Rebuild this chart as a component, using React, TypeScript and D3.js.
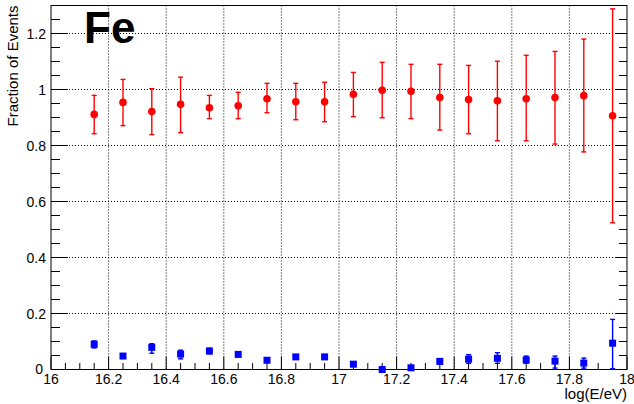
import React from "react";
import * as d3 from "d3";

// Bin centres in log10(E/eV)
const energyBins = [
  16.15, 16.25, 16.35, 16.45, 16.55, 16.65, 16.75, 16.85, 16.95, 17.05,
  17.15, 17.25, 17.35, 17.45, 17.55, 17.65, 17.75, 17.85, 17.95,
];

// Fraction of events reconstructed (red circles) with lower / upper error bounds
const fracRed = [
  0.911, 0.954, 0.921, 0.947, 0.935, 0.942, 0.967, 0.956, 0.956, 0.983,
  0.997, 0.994, 0.971, 0.964, 0.96, 0.967, 0.971, 0.978, 0.906,
];
const fracRedLow = [
  0.842, 0.871, 0.839, 0.846, 0.896, 0.896, 0.917, 0.892, 0.885, 0.903,
  0.899, 0.896, 0.855, 0.842, 0.817, 0.817, 0.805, 0.777, 0.524,
];
const fracRedHigh = [
  0.979, 1.036, 1.003, 1.044, 0.979, 0.99, 1.022, 1.022, 1.026, 1.061,
  1.097, 1.09, 1.09, 1.086, 1.101, 1.122, 1.136, 1.18, 1.288,
];

// Fraction of events in the second selection (blue squares)
const fracBlue = [
  0.09, 0.048, 0.079, 0.055, 0.066, 0.054, 0.033, 0.045, 0.045, 0.019,
  0.0, 0.006, 0.029, 0.037, 0.04, 0.034, 0.03, 0.023, 0.094,
];
const fracBlueLow = [
  0.077, 0.04, 0.058, 0.038, 0.056, 0.045, 0.026, 0.038, 0.038, 0.012,
  0.0, 0.001, 0.02, 0.022, 0.022, 0.022, 0.005, 0.005, 0.003,
];
const fracBlueHigh = [
  0.102, 0.056, 0.092, 0.069, 0.076, 0.063, 0.04, 0.052, 0.052, 0.026,
  0.005, 0.011, 0.038, 0.053, 0.06, 0.048, 0.048, 0.041, 0.179,
];

const xTickLabels = ["16", "16.2", "16.4", "16.6", "16.8", "17", "17.2", "17.4", "17.6", "17.8", "18"];
const yTickLabels = ["0", "0.2", "0.4", "0.6", "0.8", "1", "1.2"];

const W = 634;
const H = 404;
const LEFT = 51;
const RIGHT = 627;
const TOP = 5.5;
const BOTTOM = 369.5;
const FONT = "'Liberation Sans', Arial, Helvetica, sans-serif";

export default function App() {
  const x = d3.scaleLinear().domain([16, 18]).range([LEFT, RIGHT]);
  const y = d3.scaleLinear().domain([0, 1.3]).range([BOTTOM, TOP]);

  const xMajor = xTickLabels.map(Number);
  const yMajor = yTickLabels.map(Number);
  const xMinor = d3.range(0, 41).map((i) => 16 + i * 0.05).filter((v) => v <= 18.0001);
  const yMinor = d3.range(0, 27).map((i) => i * 0.05).filter((v) => v <= 1.3001);
  const isMajor = (v: number) => Math.abs(v * 5 - Math.round(v * 5)) < 1e-6;

  const capHalf = 2.5;

  const errBar = (
    xv: number,
    lo: number,
    hi: number,
    color: string,
    key: string
  ) => (
    <g key={key} stroke={color} strokeWidth={1.4}>
      <line x1={x(xv)} x2={x(xv)} y1={y(lo)} y2={y(hi)} />
      <line x1={x(xv) - capHalf} x2={x(xv) + capHalf} y1={y(lo)} y2={y(lo)} />
      <line x1={x(xv) - capHalf} x2={x(xv) + capHalf} y1={y(hi)} y2={y(hi)} />
    </g>
  );

  return (
    <svg
      width={W}
      height={H}
      style={{ position: "absolute", left: 0, top: 0, background: "#fff" }}
      fontFamily={FONT}
    >
      <rect x={0} y={0} width={W} height={H} fill="#fff" />

      {/* dotted grid */}
      <g stroke="#000" strokeWidth={1} strokeDasharray="1,2">
        {xMajor
          .filter((v) => v > 16 && v < 18)
          .map((v) => (
            <line key={`gx${v}`} x1={x(v)} x2={x(v)} y1={BOTTOM} y2={TOP} />
          ))}
        {yMajor
          .filter((v) => v > 0)
          .map((v) => (
            <line key={`gy${v}`} x1={LEFT} x2={RIGHT} y1={y(v)} y2={y(v)} />
          ))}
      </g>

      {/* frame */}
      <rect x={LEFT} y={TOP} width={RIGHT - LEFT} height={BOTTOM - TOP} fill="none" stroke="#000" strokeWidth={1} />

      {/* x-axis ticks */}
      <g stroke="#000" strokeWidth={1}>
        {xMinor.map((v) => (
          <line
            key={`xt${v.toFixed(2)}`}
            x1={x(v)}
            x2={x(v)}
            y1={BOTTOM}
            y2={BOTTOM - (isMajor(v) ? 13 : 6.5)}
          />
        ))}
        {/* left y-axis ticks */}
        {yMinor.map((v) => (
          <line
            key={`yl${v.toFixed(2)}`}
            x1={LEFT}
            x2={LEFT + (isMajor(v) ? 17 : 9)}
            y1={y(v)}
            y2={y(v)}
          />
        ))}
        {/* right y-axis ticks */}
        {yMinor.map((v) => (
          <line
            key={`yr${v.toFixed(2)}`}
            x1={RIGHT}
            x2={RIGHT - (isMajor(v) ? 12 : 8)}
            y1={y(v)}
            y2={y(v)}
          />
        ))}
      </g>

      {/* tick labels */}
      <g fontSize={14} fill="#000">
        {xTickLabels.map((t) => (
          <text key={`xl${t}`} x={x(Number(t))} y={383.5} textAnchor="middle">
            {t}
          </text>
        ))}
        {yTickLabels.map((t) => (
          <text
            key={`yl${t}`}
            x={t === "0" ? 43 : 46}
            y={y(Number(t)) - (t === "0" ? 1 : 0)}
            textAnchor="end"
            dominantBaseline="central"
          >
            {t}
          </text>
        ))}
      </g>

      {/* axis titles */}
      <text x={RIGHT} y={399} fontSize={15} textAnchor="end" fill="#000">
        log(E/eV)
      </text>
      <text
        transform={`translate(17.5, ${TOP}) rotate(-90)`}
        fontSize={15}
        textAnchor="end"
        fill="#000"
      >
        Fraction of Events
      </text>

      {/* element label */}
      <text x={84} y={43} fontSize={44} fontWeight="bold" fill="#000">
        Fe
      </text>

      {/* red series */}
      {energyBins.map((e, i) => errBar(e, fracRedLow[i], fracRedHigh[i], "#ff0000", `re${i}`))}
      {energyBins.map((e, i) => (
        <circle key={`rc${i}`} cx={x(e)} cy={y(fracRed[i])} r={3.8} fill="#ff0000" />
      ))}

      {/* blue series */}
      {energyBins.map((e, i) => errBar(e, fracBlueLow[i], fracBlueHigh[i], "#0000ff", `be${i}`))}
      {energyBins.map((e, i) => (
        <rect
          key={`bs${i}`}
          x={x(e) - 3.5}
          y={y(fracBlue[i]) - 3.5}
          width={7}
          height={7}
          fill="#0000ff"
        />
      ))}
    </svg>
  );
}
